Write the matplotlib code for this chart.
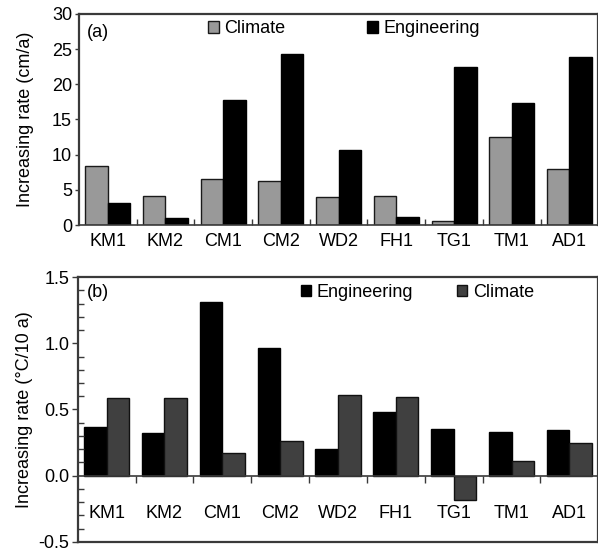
import numpy as np
import matplotlib
matplotlib.use('Agg')
import matplotlib.pyplot as plt
from matplotlib.patches import Patch
from matplotlib.ticker import MultipleLocator, FixedLocator, FormatStrFormatter

plt.rcParams['font.family'] = ['Liberation Sans', 'DejaVu Sans']

#data:
sites = ['KM1', 'KM2', 'CM1', 'CM2', 'WD2', 'FH1', 'TG1', 'TM1', 'AD1']
# (a) increasing rate of permafrost table (cm/a)
a_climate = [8.35, 4.1, 6.6, 6.25, 4.0, 4.1, 0.55, 12.5, 7.9]
a_engineering = [3.2, 0.95, 17.8, 24.3, 10.6, 1.1, 22.4, 17.4, 23.85]
# (b) increasing rate of temperature (C/10 a)
b_engineering = [0.37, 0.32, 1.315, 0.965, 0.20, 0.48, 0.35, 0.33, 0.345]
b_climate = [0.59, 0.585, 0.175, 0.265, 0.61, 0.595, -0.18, 0.11, 0.245]

x = np.arange(len(sites))
w = 0.39
spine_col = '#3a3a3a'
fs = 13

fig = plt.figure(figsize=(5.98, 5.53), dpi=100)
ax1 = fig.add_axes([0.132, 0.593, 0.8685, 0.382])
ax2 = fig.add_axes([0.130, 0.020, 0.8705, 0.479])

#panel (a):
ax1.bar(x - w/2, a_climate, w, color='#999999', edgecolor='#1a1a1a', linewidth=1)
ax1.bar(x + w/2, a_engineering, w, color='black', edgecolor='black', linewidth=1)
ax1.set_xlim(-0.5, len(sites) - 0.5)
ax1.set_ylim(0, 30)
ax1.yaxis.set_major_locator(MultipleLocator(5))
ax1.xaxis.set_major_locator(FixedLocator(x[:-1] + 0.5))
ax1.xaxis.set_minor_locator(FixedLocator(x))
ax1.set_xticklabels([])
ax1.set_xticklabels(sites, minor=True)
ax1.tick_params(axis='x', which='major', direction='in', length=4, width=1, color=spine_col)
ax1.tick_params(axis='x', which='minor', length=0, pad=6, labelsize=fs)
ax1.tick_params(axis='y', direction='out', length=3, width=1, color=spine_col, pad=2, labelsize=fs)
ax1.set_ylabel('Increasing rate (cm/a)', fontsize=fs, labelpad=13)
ax1.text(0.015, 0.91, '(a)', transform=ax1.transAxes, fontsize=fs, va='center')
h1 = [Patch(facecolor='#999999', edgecolor='#1a1a1a'), Patch(facecolor='black', edgecolor='black')]
ax1.legend(h1, ['Climate', 'Engineering'], ncol=2, frameon=False, fontsize=fs,
           loc='center left', bbox_to_anchor=(0.249, 0.929), borderaxespad=0, borderpad=0,
           handlelength=0.6, handleheight=0.6, handletextpad=0.3, columnspacing=4.5)

#panel (b):
ax2.bar(x - w/2, b_engineering, w, color='black', edgecolor='black', linewidth=1)
ax2.bar(x + w/2, b_climate, w, color='#404040', edgecolor='#111111', linewidth=1)
ax2.set_xlim(-0.5, len(sites) - 0.5)
ax2.set_ylim(-0.5, 1.5)
ax2.yaxis.set_major_locator(MultipleLocator(0.5))
ax2.yaxis.set_minor_locator(MultipleLocator(0.1))
ax2.yaxis.set_major_formatter(FormatStrFormatter('%.1f'))
ax2.spines['bottom'].set_position(('data', 0))
ax2.axhline(-0.5, color=spine_col, linewidth=1.6, clip_on=False)
ax2.xaxis.set_major_locator(FixedLocator(x[:-1] + 0.5))
ax2.xaxis.set_minor_locator(FixedLocator(x))
ax2.set_xticklabels([])
ax2.set_xticklabels(sites, minor=True)
ax2.tick_params(axis='x', which='major', direction='out', length=5, width=1, color=spine_col)
ax2.tick_params(axis='x', which='minor', length=0, pad=21, labelsize=fs)
ax2.tick_params(axis='y', which='major', direction='out', length=4, width=1, color=spine_col, pad=2, labelsize=fs)
ax2.tick_params(axis='y', which='minor', direction='in', length=4, width=1, color=spine_col)
ax2.set_ylabel('Increasing rate (\u00b0C/10 a)', fontsize=fs, labelpad=4)
ax2.text(0.017, 0.943, '(b)', transform=ax2.transAxes, fontsize=fs, va='center')
h2 = [Patch(facecolor='black', edgecolor='black'), Patch(facecolor='#404040', edgecolor='#111111')]
ax2.legend(h2, ['Engineering', 'Climate'], ncol=2, frameon=False, fontsize=fs,
           loc='center left', bbox_to_anchor=(0.428, 0.943), borderaxespad=0, borderpad=0,
           handlelength=0.6, handleheight=0.6, handletextpad=0.3, columnspacing=2.4)

for ax in (ax1, ax2):
    for s in ax.spines.values():
        s.set_color(spine_col)
        s.set_linewidth(1.6)
    ax.spines['bottom'].set_linewidth(1.2)

# line up both y labels
fig.align_ylabels([ax1, ax2])

plt.savefig('out.png', dpi=100)
